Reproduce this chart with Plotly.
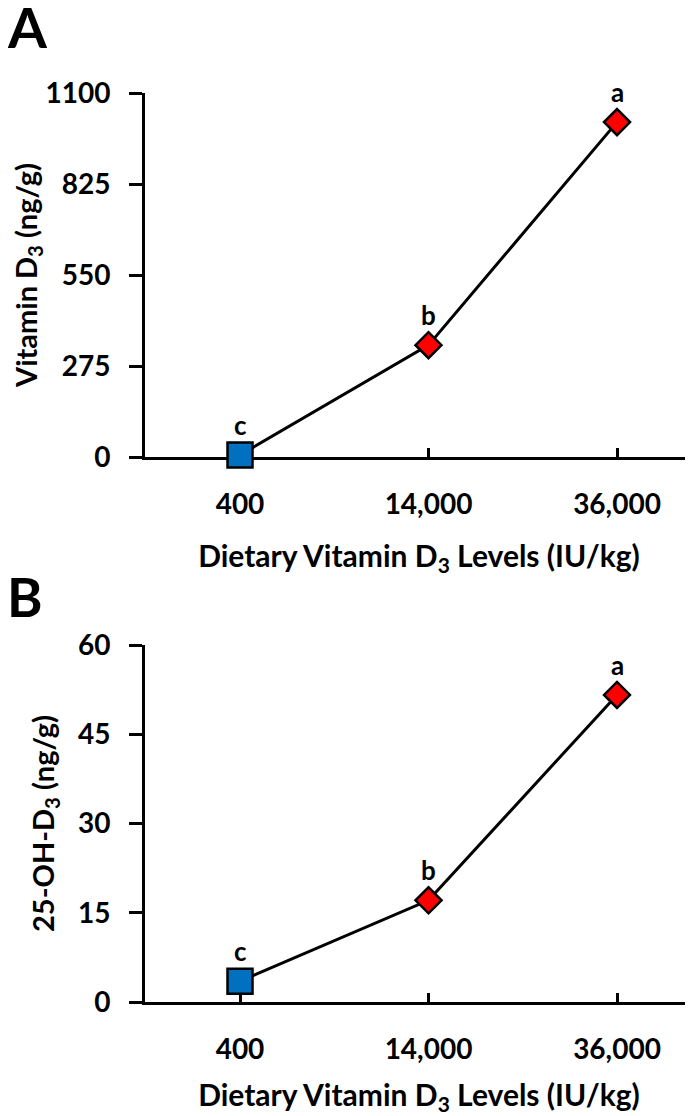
import plotly.graph_objects as go

# ---- data ----
dose_labels = ["400", "14,000", "36,000"]
dose_pos = [0, 1, 2]
vitd3 = [6, 338, 1012]
vitd3_letters = ["c", "b", "a"]
ohd3 = [3.5, 17.1, 51.6]
ohd3_letters = ["c", "b", "a"]
a_ticks = [0, 275, 550, 825, 1100]
b_ticks = [0, 15, 30, 45, 60]

FONT = "Lato"
OFF = 8  # page body margin
W, H = 693 - OFF, 1116 - OFF
L = 145 - OFF

fig = go.Figure()

marker_colors = ["#0070C0", "#FF0000", "#FF0000"]
marker_symbols = ["square", "diamond", "diamond"]
marker_sizes = [25, 20, 20]

def add_panel(yvals, letters, xa, ya):
    fig.add_trace(go.Scatter(
        x=dose_pos, y=yvals, mode="lines",
        line=dict(color="black", width=3),
        xaxis=xa, yaxis=ya, showlegend=False, hoverinfo="skip"))
    fig.add_trace(go.Scatter(
        x=dose_pos, y=yvals, mode="markers",
        marker=dict(color=marker_colors, symbol=marker_symbols, size=marker_sizes,
                    opacity=1, line=dict(color="black", width=2.5)),
        xaxis=xa, yaxis=ya, showlegend=False, cliponaxis=False))
    for xp, yv, lt in zip(dose_pos, yvals, letters):
        fig.add_annotation(x=xp, y=yv, xref=xa, yref=ya, text=lt,
                           showarrow=False, yshift=30,
                           font=dict(family=FONT, size=26, color="black", weight="bold"))

add_panel(vitd3, vitd3_letters, "x", "y")
add_panel(ohd3, ohd3_letters, "x2", "y2")

c0 = 240 - OFF
step = 188.5
xrange = [(L - c0) / step, (W - c0) / step]

common_x = dict(
    range=xrange, tickvals=dose_pos, ticktext=dose_labels,
    showline=True, linecolor="black", linewidth=3, layer="below traces",
    ticks="inside", ticklen=9, tickwidth=3, tickcolor="black",
    showgrid=False, zeroline=False, ticklabelstandoff=20, automargin=False,
    tickfont=dict(family=FONT, size=28, color="black", weight="bold"),
    title=dict(text="Dietary Vitamin D<sub>3</sub> Levels (IU/kg)",
               font=dict(family=FONT, size=30, color="black", weight="bold"), standoff=28),
)
common_y = dict(
    showline=True, linecolor="black", linewidth=3, layer="below traces",
    ticks="outside", ticklen=13, tickwidth=3, tickcolor="black",
    showgrid=False, zeroline=False, ticklabelstandoff=13, automargin=False,
    tickfont=dict(family=FONT, size=28, color="black", weight="bold"),
)

def ydom(top_px, bot_px):
    return [1 - (bot_px - OFF) / H, 1 - (top_px - OFF) / H]

fig.update_layout(
    template="none",
    width=W, height=H,
    margin=dict(l=L, r=0, t=0, b=0),
    paper_bgcolor="white", plot_bgcolor="white",
    xaxis=dict(common_x, domain=[0, 1], anchor="y"),
    yaxis=dict(common_y, domain=ydom(93, 457), range=[0, 1100], tickvals=a_ticks,
               anchor="x",
               title=dict(text="Vitamin D<sub>3</sub> (ng/g)",
                          font=dict(family=FONT, size=29, color="black", weight="bold"), standoff=15)),
    xaxis2=dict(common_x, domain=[0, 1], anchor="y2"),
    yaxis2=dict(common_y, domain=ydom(645, 1002), range=[0, 60], tickvals=b_ticks,
                anchor="x2",
                title=dict(text="25-OH-D<sub>3</sub> (ng/g)",
                           font=dict(family=FONT, size=29, color="black", weight="bold"), standoff=15)),
)

pw = W - L
fig.add_annotation(x=(-3 - L) / pw, y=1 + 17 / H, xref="paper", yref="paper", xanchor="left", yanchor="top",
                   text="A", showarrow=False,
                   font=dict(family=FONT, size=56, color="black", weight="bold"))
fig.add_annotation(x=(-3 - L) / pw, y=1 - (580 - OFF - 18) / H, xref="paper", yref="paper", xanchor="left", yanchor="top",
                   text="B", showarrow=False,
                   font=dict(family=FONT, size=54, color="black", weight="bold"))

fig.write_html("out.html")
